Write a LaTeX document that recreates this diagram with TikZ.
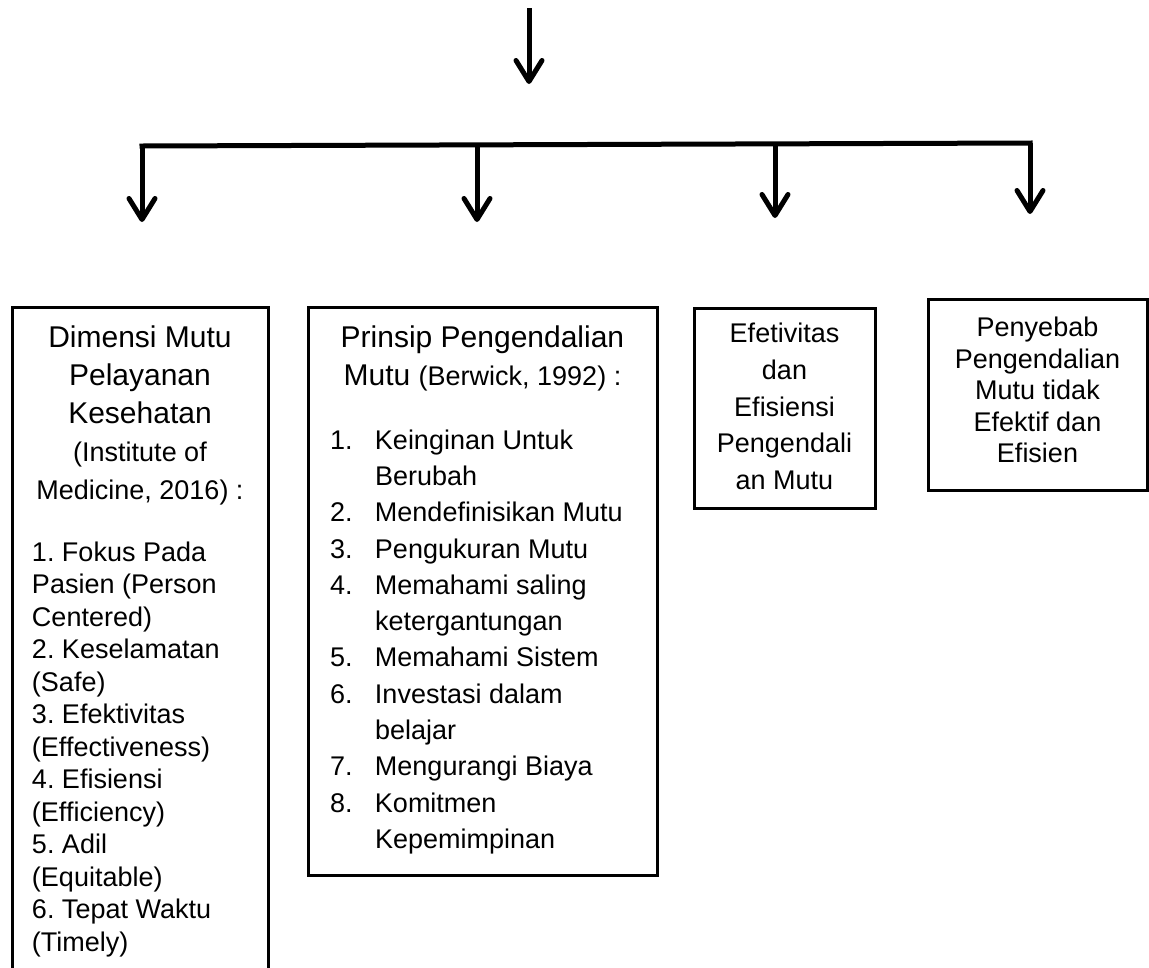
\documentclass[tikz,border=0pt]{standalone}
\usepackage{fontspec}
\setmainfont{Liberation Sans}
\usetikzlibrary{arrows.meta}

\newcommand{\mutuitem}[2]{\par\noindent\hangindent=45pt\hangafter=1\makebox[45pt][l]{#1}#2\par}

\begin{document}
\begin{tikzpicture}[x=1pt, y=-1pt,
                box_style/.style={draw=black, line width=3pt, inner sep=0pt, outer sep=0pt, anchor=north west},
                line_style/.style={draw=black, line width=5pt, line cap=rect},
                arrow_style/.style={draw=black, line width=5pt, -{Straight Barb[length=21pt, width=26pt, round]}}]
                \useasboundingbox (0,0) rectangle (1149,967);
                % arrows
                \coordinate (src) at (529,8);
                \coordinate (srcend) at (529,84);
                \coordinate (b1) at (142,146);
                \coordinate (b2) at (477,145);
                \coordinate (b3) at (775,144);
                \coordinate (b4) at (1030,143);
                \coordinate (t1) at (142,222);
                \coordinate (t2) at (477,222);
                \coordinate (t3) at (775,218);
                \coordinate (t4) at (1030,214);
                \draw[arrow_style] (src) -- (srcend);
                \draw[line_style] (b1) -- (b4);
                \draw[arrow_style] (b1) -- (t1);
                \draw[arrow_style] (b2) -- (t2);
                \draw[arrow_style] (b3) -- (t3);
                \draw[arrow_style] (b4) -- (t4);
                % boxes
                \node[box_style, minimum width=256pt, minimum height=700pt] (dimensi) at (12,307)
                    {\parbox[t][700pt][t]{256pt}{\frenchspacing\vspace*{18.4pt}\centering\fontsize{30}{38}\selectfont
                    Dimensi Mutu\\Pelayanan\\Kesehatan\\{\fontsize{27}{38}\selectfont(Institute of\\Medicine, 2016) :}\par
                    \vspace{29.5pt}\raggedright\leftskip=20pt\fontsize{27}{32.5}\selectfont
                    1. Fokus Pada\\Pasien (Person\\Centered)\\2. Keselamatan\\(Safe)\\3. Efektivitas\\(Effectiveness)\\4. Efisiensi\\(Efficiency)\\5. Adil\\(Equitable)\\6. Tepat Waktu\\(Timely)\par}};
                \node[box_style, minimum width=349pt, minimum height=568pt] (prinsip) at (308,307)
                    {\parbox[t][568pt][t]{349pt}{\vspace*{18.4pt}\centering\fontsize{30}{38}\selectfont
                    Prinsip Pengendalian\\Mutu {\fontsize{27}{38}\selectfont(Berwick, 1992) :}\par
                    \vspace{27.7pt}\raggedright\leftskip=22pt\fontsize{27}{36.3}\selectfont
                    \mutuitem{1.}{Keinginan Untuk\newline Berubah}
                    \mutuitem{2.}{Mendefinisikan Mutu}
                    \mutuitem{3.}{Pengukuran Mutu}
                    \mutuitem{4.}{Memahami saling\newline ketergantungan}
                    \mutuitem{5.}{Memahami Sistem}
                    \mutuitem{6.}{Investasi dalam\newline belajar}
                    \mutuitem{7.}{Mengurangi Biaya}
                    \mutuitem{8.}{Komitmen\newline Kepemimpinan}}};
                \node[box_style, minimum width=181pt, minimum height=200pt] (efektivitas) at (694,308)
                    {\parbox[t][200pt][t]{181pt}{\vspace*{15.2pt}\centering\fontsize{27}{36.7}\selectfont
                    Efetivitas\\dan\\Efisiensi\\Pengendali\\an Mutu\par}};
                \node[box_style, minimum width=219pt, minimum height=191pt] (penyebab) at (928,299)
                    {\parbox[t][191pt][t]{219pt}{\vspace*{18.4pt}\centering\fontsize{27}{31.5}\selectfont
                    Penyebab\\Pengendalian\\Mutu tidak\\Efektif dan\\Efisien\par}};
            \end{tikzpicture}
\end{document}
